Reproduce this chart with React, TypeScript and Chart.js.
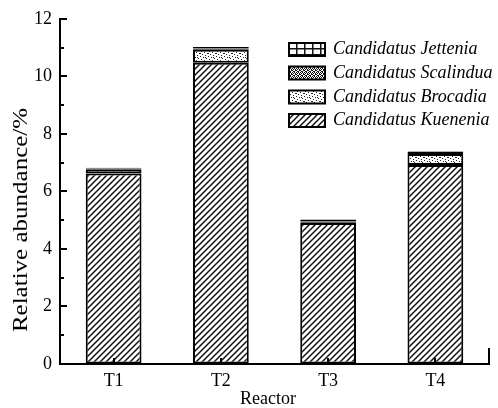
import React, { useEffect, useRef } from "react";
import { Chart, registerables } from "chart.js";

Chart.register(...registerables);

const categories = ["T1", "T2", "T3", "T4"];
const kuenenia = [6.62, 10.47, 4.9, 6.92];
const brocadia = [0.15, 0.45, 0.03, 0.38];
const scalindua = [0.03, 0.05, 0.02, 0.08];
const jettenia = [0.02, 0.05, 0.07, 0.02];
const seriesNames = [
  "Candidatus Kuenenia",
  "Candidatus Brocadia",
  "Candidatus Scalindua",
  "Candidatus Jettenia",
];
const yTicks = [0, 2, 4, 6, 8, 10, 12];

const FONT = "'Liberation Serif', 'Times New Roman', serif";

function makeTile(w: number, h: number, draw: (c: CanvasRenderingContext2D) => void) {
  const cv = document.createElement("canvas");
  cv.width = w;
  cv.height = h;
  const c = cv.getContext("2d")!;
  c.fillStyle = "#fff";
  c.fillRect(0, 0, w, h);
  draw(c);
  const tmp = document.createElement("canvas").getContext("2d")!;
  return tmp.createPattern(cv, "repeat")!;
}

function makePatterns() {
  const hatch = makeTile(6, 6, (c) => {
    c.strokeStyle = "#111";
    c.lineWidth = 1.5;
    c.beginPath();
    c.moveTo(0, 6);
    c.lineTo(6, 0);
    c.moveTo(-1, 1);
    c.lineTo(1, -1);
    c.moveTo(5, 7);
    c.lineTo(7, 5);
    c.stroke();
  });
  const dots = makeTile(8, 8, (c) => {
    c.fillStyle = "#222";
    const pts = [
      [0, 0], [3, 1], [6, 2], [1, 3], [4, 4], [7, 5], [2, 6], [5, 7], [5, 1], [0, 5],
    ];
    pts.forEach(([x, y]) => c.fillRect(x, y, 1, 1));
  });
  const dense = makeTile(4, 4, (c) => {
    c.fillStyle = "#111";
    const pts = [
      [0, 0], [2, 0], [1, 1], [3, 1], [0, 2], [3, 2], [1, 3], [2, 3],
    ];
    pts.forEach(([x, y]) => c.fillRect(x, y, 1, 1));
  });
  const grid = makeTile(8, 6, (c) => {
    c.fillStyle = "#111";
    c.fillRect(0, 0, 1.5, 6);
    c.fillRect(0, 0, 8, 1.5);
  });
  return [hatch, dots, dense, grid];
}

export default function App() {
  const ref = useRef<HTMLCanvasElement>(null);

  useEffect(() => {
    document.body.style.margin = "0";
    const pats = makePatterns();
    const values = [kuenenia, brocadia, scalindua, jettenia];

    const decor = {
      id: "decor",
      afterDraw(chart: any) {
        const ctx = chart.ctx as CanvasRenderingContext2D;
        const { left, right, bottom } = chart.chartArea;
        const y = chart.scales.y;
        const x = chart.scales.x;
        ctx.save();
        ctx.strokeStyle = "#000";
        ctx.lineWidth = 2;
        ctx.beginPath();
        for (let v = 0; v <= 12; v++) {
          const py = Math.round(y.getPixelForValue(v));
          const len = v % 2 === 0 ? 7 : 4;
          ctx.moveTo(left, py);
          ctx.lineTo(left + len, py);
        }
        categories.forEach((_, i) => {
          const px = Math.round(x.getPixelForValue(i));
          ctx.moveTo(px, bottom);
          ctx.lineTo(px, bottom - 6);
        });
        ctx.moveTo(right, bottom);
        ctx.lineTo(right, bottom - 16);
        ctx.stroke();

        // axis titles
        ctx.fillStyle = "#000";
        ctx.font = `18px ${FONT}`;
        ctx.textAlign = "center";
        ctx.textBaseline = "middle";
        ctx.fillText("Reactor", 268, 399);
        ctx.save();
        ctx.translate(22, 220);
        ctx.rotate(-Math.PI / 2);
        ctx.scale(1.25, 1);
        ctx.font = `20px ${FONT}`;
        ctx.fillText("Relative abundance/%", 0, 0);
        ctx.restore();

        // legend
        const rows = [3, 2, 1, 0];
        const ys = [49.5, 73, 97, 120.5];
        ctx.font = `italic 18px ${FONT}`;
        ctx.textAlign = "left";
        rows.forEach((si, r) => {
          const cy = ys[r];
          ctx.fillStyle = pats[si];
          ctx.fillRect(289, cy - 6.5, 36, 13);
          ctx.lineWidth = 2;
          ctx.strokeStyle = "#000";
          ctx.strokeRect(289, cy - 6.5, 36, 13);
          ctx.fillStyle = "#000";
          ctx.fillText(seriesNames[si], 333, cy);
        });
        ctx.restore();
      },
    };

    const chart = new Chart(ref.current!, {
      type: "bar",
      data: {
        labels: categories,
        datasets: values.map((d, i) => ({
          label: seriesNames[i],
          data: d,
          backgroundColor: pats[i],
          borderColor: "#000",
          borderWidth: 2,
          borderSkipped: false,
          barPercentage: 0.52,
          categoryPercentage: 1,
        })),
      },
      options: {
        responsive: false,
        animation: false,
        layout: { padding: { left: 0, right: 9, top: 18, bottom: 0 } },
        plugins: { legend: { display: false }, tooltip: { enabled: false } },
        scales: {
          x: {
            stacked: true,
            grid: { drawOnChartArea: false, drawTicks: false },
            border: { display: true, color: "#000", width: 2 },
            ticks: { color: "#000", font: { family: FONT, size: 18 }, padding: 6 },
            afterFit: (s: any) => {
              s.height = 44;
            },
          },
          y: {
            stacked: true,
            min: 0,
            max: 12,
            afterBuildTicks: (s: any) => {
              s.ticks = yTicks.map((v) => ({ value: v }));
            },
            grid: { drawOnChartArea: false, drawTicks: false },
            border: { display: true, color: "#000", width: 2 },
            ticks: { color: "#000", font: { family: FONT, size: 18 }, padding: 8 },
            afterFit: (s: any) => {
              s.width = 60;
            },
          },
        },
      },
      plugins: [decor],
    });
    return () => chart.destroy();
  }, []);

  return (
    <div style={{ width: 498, height: 408 }}>
      <canvas ref={ref} width={498} height={408} />
    </div>
  );
}
